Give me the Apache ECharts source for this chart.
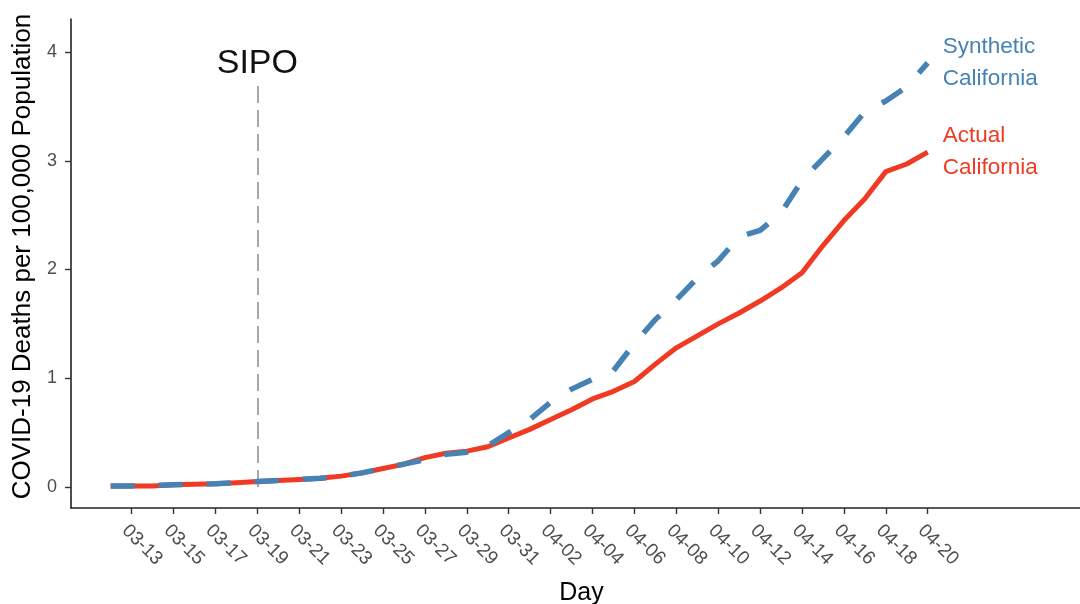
<!DOCTYPE html>
<html><head><meta charset="utf-8">
<script src="https://cdn.jsdelivr.net/npm/echarts@6/dist/echarts.min.js"></script>
<style>html,body{margin:0;padding:0;background:#fff}#c{width:1080px;height:604px}</style>
</head><body><div id="c"></div>
<script>
const days = ["03-12","03-13","03-14","03-15","03-16","03-17","03-18","03-19","03-20","03-21",
  "03-22","03-23","03-24","03-25","03-26","03-27","03-28","03-29","03-30","03-31",
  "04-01","04-02","04-03","04-04","04-05","04-06","04-07","04-08","04-09","04-10",
  "04-11","04-12","04-13","04-14","04-15","04-16","04-17","04-18","04-19","04-20"];
const actual = [0.01,0.01,0.01,0.02,0.025,0.03,0.04,0.05,0.06,0.07,
  0.08,0.10,0.13,0.17,0.21,0.27,0.31,0.33,0.37,0.45,
  0.53,0.62,0.71,0.81,0.88,0.97,1.13,1.28,1.39,1.50,
  1.60,1.71,1.83,1.97,2.22,2.45,2.65,2.90,2.97,3.08];
const synthetic = [0.01,0.01,0.015,0.02,0.025,0.03,0.04,0.05,0.06,0.07,
  0.08,0.10,0.13,0.17,0.21,0.25,0.30,0.32,0.38,0.50,
  0.62,0.78,0.90,0.99,1.07,1.32,1.54,1.72,1.92,2.08,
  2.30,2.36,2.52,2.82,3.02,3.22,3.45,3.55,3.68,3.90];
const xTickLabels = ["03-13","03-15","03-17","03-19","03-21","03-23","03-25","03-27","03-29","03-31",
  "04-02","04-04","04-06","04-08","04-10","04-12","04-14","04-16","04-18","04-20"];
const yTicks = [0,1,2,3,4];
const sipoDay = "03-19";
const sipoTop = 3.72;

const FONT = "'Liberation Sans', Arial, sans-serif";
const RED = '#F03A24', BLUE = '#4682B4';
const xTickIdx = xTickLabels.map(t => days.indexOf(t));
const sipoIdx = days.indexOf(sipoDay);

const chart = echarts.init(document.getElementById('c'), null, {renderer: 'canvas'});
chart.setOption({
  animation: false,
  backgroundColor: '#fff',
  textStyle: {fontFamily: FONT},
  grid: {left: 71, right: 0, top: 19, bottom: 96, containLabel: false, outerBoundsMode: 'none'},
  xAxis: {
    type: 'value', min: -1.895, max: 46.27,
    name: 'Day', nameLocation: 'middle', nameGap: 73,
    nameTextStyle: {fontSize: 25, color: '#000', fontFamily: FONT, padding: [0, 0, 0, 12]},
    splitLine: {show: false},
    axisLine: {show: true, onZero: false, lineStyle: {color: '#222', width: 1.6}},
    axisTick: {show: true, length: 6, customValues: xTickIdx, lineStyle: {color: '#333', width: 1.4}},
    axisLabel: {
      customValues: xTickIdx, rotate: -45, align: 'left', verticalAlign: 'top', margin: 13,
      fontSize: 19, color: '#4d4d4d', fontFamily: FONT,
      formatter: v => days[Math.round(v)]
    }
  },
  yAxis: {
    type: 'value', min: -0.1931, max: 4.3035,
    name: 'COVID-19 Deaths per 100,000 Population', nameLocation: 'middle', nameGap: 33,
    nameTextStyle: {fontSize: 26, color: '#000', fontFamily: FONT, padding: [0, 0, 0, 14]},
    splitLine: {show: false},
    axisLine: {show: true, onZero: false, lineStyle: {color: '#222', width: 1.6}},
    axisTick: {show: true, length: 6, customValues: yTicks, lineStyle: {color: '#333', width: 1.4}},
    axisLabel: {customValues: yTicks, margin: 14, fontSize: 18, color: '#4d4d4d', fontFamily: FONT,
      formatter: v => String(v)}
  },
  series: [
    {
      name: 'Actual California', type: 'line', z: 2,
      data: actual.map((v, i) => [i, v]),
      showSymbol: false, symbol: 'none',
      lineStyle: {color: RED, width: 5},
      endLabel: {show: true, formatter: 'Actual\nCalifornia', distance: 15,
        fontSize: 22.5, lineHeight: 32, color: RED, fontFamily: FONT},
      markLine: {
        silent: true, symbol: ['none','none'], z: 1,
        lineStyle: {color: '#a8a8a8', type: [17, 7], width: 2},
        label: {show: true, position: 'end', formatter: 'SIPO', fontSize: 34, color: '#111',
          fontFamily: FONT, distance: 2},
        data: [[{coord: [sipoIdx, 0]}, {coord: [sipoIdx, sipoTop]}]]
      }
    },
    {
      name: 'Synthetic California', type: 'line', z: 3,
      data: synthetic.map((v, i) => [i, v]),
      showSymbol: false, symbol: 'none',
      lineStyle: {color: BLUE, width: 5.5, type: [24, 24]},
      endLabel: {show: true, formatter: 'Synthetic\nCalifornia', distance: 15,
        fontSize: 22.5, lineHeight: 32, color: BLUE, fontFamily: FONT}
    }
  ]
});
</script></body></html>
